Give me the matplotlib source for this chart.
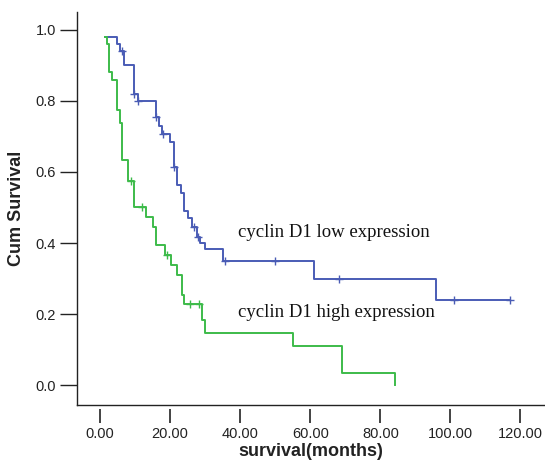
import matplotlib
matplotlib.use("Agg")
import matplotlib.pyplot as plt
from matplotlib.ticker import FormatStrFormatter

# Kaplan-Meier steps (months, cumulative survival)
low_times = [1.4, 4.8, 5.7, 6.7, 9.8, 10.7, 16.0, 16.8, 17.6, 19.9, 21.0, 21.9, 23.0,
             24.0, 25.0, 26.2, 27.6, 28.4, 30.0, 35.0, 61.0, 95.9]
low_surv = [0.98, 0.96, 0.94, 0.90, 0.82, 0.80, 0.755, 0.73, 0.707, 0.683, 0.615, 0.563,
            0.54, 0.49, 0.47, 0.446, 0.418, 0.40, 0.382, 0.35, 0.298, 0.239]
low_end = 117.1
low_cens_t = [6.2, 9.8, 10.9, 16.0, 17.9, 21.0, 26.7, 27.9, 35.7, 50.0, 68.1, 101.1, 117.1]
low_cens_s = [0.94, 0.82, 0.80, 0.755, 0.707, 0.615, 0.446, 0.418, 0.35, 0.35, 0.298, 0.239, 0.239]

high_times = [1.4, 2.1, 2.6, 3.5, 4.8, 5.7, 6.2, 7.9, 9.6, 13.1, 15.2, 15.9, 18.5, 20.3,
              21.9, 23.5, 24.0, 29.2, 30.0, 55.0, 69.0, 84.2]
high_surv = [0.98, 0.96, 0.88, 0.86, 0.775, 0.737, 0.634, 0.575, 0.50, 0.472, 0.446, 0.394,
             0.366, 0.338, 0.31, 0.254, 0.228, 0.183, 0.148, 0.11, 0.035, 0.0]
high_cens_t = [8.9, 11.9, 19.2, 25.7, 28.2]
high_cens_s = [0.575, 0.50, 0.366, 0.228, 0.228]

x_ticks = [0, 20, 40, 60, 80, 100, 120]
y_ticks = [0.0, 0.2, 0.4, 0.6, 0.8, 1.0]

BLUE = "#4a5cb5"
GREEN = "#3dbb4a"
INK = "#222222"

fig = plt.figure(figsize=(5.45, 4.65), dpi=100)
ax = fig.add_axes([0.1413, 0.129, 0.8587, 0.845])

ax.step(low_times + [low_end], low_surv + [low_surv[-1]], where="post", color=BLUE, lw=1.4)
ax.plot(low_cens_t, low_cens_s, ls="none", marker="+", ms=6, mew=1.0, color=BLUE)

ax.step(high_times, high_surv, where="post", color=GREEN, lw=1.4)
ax.plot(high_cens_t, high_cens_s, ls="none", marker="+", ms=6, mew=1.0, color=GREEN)

ax.text(39.4, 0.43, "cyclin D1 low expression", family="Liberation Serif", fontsize=13.5,
        color="#111111", va="center", ha="left")
ax.text(39.4, 0.205, "cyclin D1 high expression", family="Liberation Serif", fontsize=13.5,
        color="#111111", va="center", ha="left")

ax.set_xlim(-6.6, 127)
ax.set_ylim(-0.056, 1.05)

for side in ("top", "right"):
    ax.spines[side].set_visible(False)
ax.spines["left"].set_color(INK)
ax.spines["left"].set_linewidth(1.0)
# x ticks sit a little below the axis line, as in SPSS output
ax.spines["bottom"].set_position(("outward", 3))
ax.spines["bottom"].set_color("none")
ax.plot([0, 1], [0, 0], transform=ax.transAxes, color=INK, lw=1.0, clip_on=False)

ax.set_xticks(x_ticks)
ax.set_yticks(y_ticks)
ax.xaxis.set_major_formatter(FormatStrFormatter("%.2f"))
ax.yaxis.set_major_formatter(FormatStrFormatter("%.1f"))
ax.tick_params(axis="x", direction="out", length=10, width=1.2, color=INK, pad=3)
ax.tick_params(axis="y", direction="out", length=12, width=1.0, color=INK, pad=3)
for lab in ax.get_xticklabels() + ax.get_yticklabels():
    lab.set_family("Liberation Sans")
    lab.set_fontsize(10.5)
    lab.set_color(INK)

ax.set_xlabel("survival(months)", family="Liberation Sans", fontsize=13, fontweight="bold",
              color=INK, labelpad=1)
ax.set_ylabel("Cum Survival", family="Liberation Sans", fontsize=13, fontweight="bold",
              color=INK, labelpad=8)

fig.savefig("out.png", dpi=100)
